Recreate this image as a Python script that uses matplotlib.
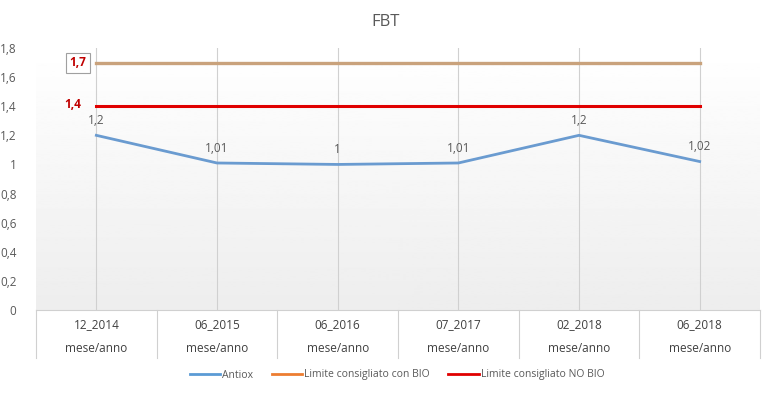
import numpy as np
import matplotlib.pyplot as plt
from matplotlib.lines import Line2D

plt.rcParams['font.family'] = ['Open Sans', 'DejaVu Sans']

categories = ["12_2014", "06_2015", "06_2016", "07_2017", "02_2018", "06_2018"]
sub_label = "mese/anno"
antiox = [1.2, 1.01, 1.0, 1.01, 1.2, 1.02]
antiox_labels = ["1,2", "1,01", "1", "1,01", "1,2", "1,02"]
lim_bio = [1.7] * 6
lim_nobio = [1.4] * 6
yticks = [0, 0.2, 0.4, 0.6, 0.8, 1, 1.2, 1.4, 1.6, 1.8]
ytick_labels = ["0", "0,2", "0,4", "0,6", "0,8", "1", "1,2", "1,4", "1,6", "1,8"]
series_names = ["Antiox", "Limite consigliato con BIO", "Limite consigliato NO BIO"]

W, H = 774, 393
fig = plt.figure(figsize=(W / 100, H / 100), dpi=100)
ax = fig.add_axes([36 / W, (H - 310) / H, (760 - 36) / W, (310 - 48) / H])

x = np.arange(len(categories))
ax.set_xlim(-0.5, len(categories) - 0.5)
ax.set_ylim(0, 1.8)

# gradient background of plot area
grad = np.linspace(0.93, 1.0, 256).reshape(-1, 1)
ax.imshow(grad, extent=[0, 1, 0, 1], transform=ax.transAxes, cmap='gray',
          vmin=0, vmax=1, aspect='auto', origin='lower', zorder=0)

ax.set_xticks(x)
ax.grid(axis='x', color='#d0d0d0', linewidth=0.8, zorder=1)
ax.tick_params(axis='x', length=0, labelbottom=False)
ax.tick_params(axis='y', length=0, labelsize=8.5, labelcolor='#595959', pad=14)
ax.set_yticks(yticks)
ax.set_yticklabels(ytick_labels)
for s in ['top', 'right', 'left']:
    ax.spines[s].set_visible(False)
ax.spines['bottom'].set_color('#d0d0d0')

ax.plot(x, antiox, color='#6a9bd0', linewidth=2, zorder=3)
ax.plot(x, lim_bio, color='#c9a27c', linewidth=2.4, zorder=3)
ax.plot(x, lim_nobio, color='#e00000', linewidth=2.2, zorder=3)

for xi, v, lab in zip(x, antiox, antiox_labels):
    ax.annotate(lab, (xi, v), xytext=(0, 6), textcoords='offset points',
                ha='center', va='bottom', fontsize=8.5, color='#595959')

ax.annotate("1,7", (x[0], lim_bio[0]), xytext=(-7, 0), textcoords='offset points',
            ha='right', va='center', fontsize=8.5, color='#c00000', fontweight='bold',
            bbox=dict(boxstyle='square,pad=0.3', fc='white', ec='#a0a0a0', lw=0.8))
ax.annotate("1,4", (x[0], lim_nobio[0]), xytext=(-11, 1), textcoords='offset points',
            ha='right', va='center', fontsize=8.5, color='#c00000', fontweight='bold')

# multi-level category axis table
depth = -48 / (310 - 48)
trans = ax.get_xaxis_transform()
for b in np.arange(-0.5, len(categories), 1.0):
    ax.plot([b, b], [0, depth], transform=trans, color='#d0d0d0', lw=0.8, clip_on=False)
for xi, c in zip(x, categories):
    ax.text(xi, -15 / 262, c, transform=trans, ha='center', va='center',
            fontsize=8.5, color='#404040')
    ax.text(xi, -39 / 262, sub_label, transform=trans, ha='center', va='center',
            fontsize=8.5, color='#404040')

fig.text(386 / W, 1 - 22 / H, "FBT", ha='center', va='center', fontsize=12, color='#595959')

handles = [Line2D([], [], color=c, lw=2) for c in ['#5b9bd5', '#ed7d31', '#e00000']]
fig.legend(handles, series_names, loc='center', bbox_to_anchor=(397 / W, 1 - 375 / H),
           ncol=3, frameon=False, fontsize=7.5, handlelength=2.9, handletextpad=0.2,
           columnspacing=1.8, labelcolor='#595959')

fig.savefig("out.png", dpi=100, facecolor='white')
